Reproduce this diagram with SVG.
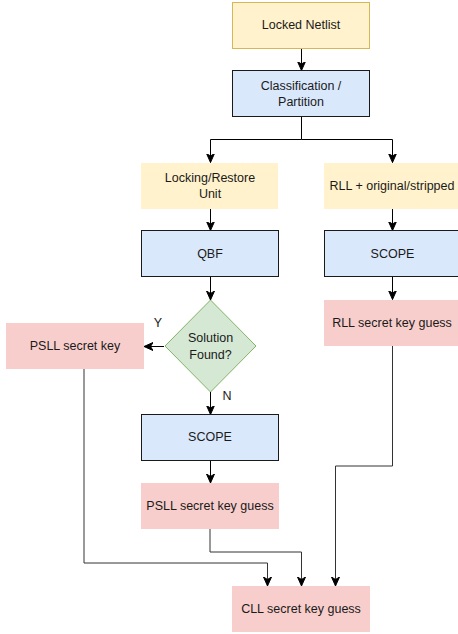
<svg xmlns="http://www.w3.org/2000/svg" width="458" height="634" viewBox="0 0 458 634">
<defs>
<marker id="arr" markerUnits="userSpaceOnUse" markerWidth="10" markerHeight="10" viewBox="0 0 10 10" refX="9" refY="5" orient="auto">
<path d="M0,1 L9,5 L0,9 L2.5,5 Z" fill="#000" stroke="#000" stroke-width="1"/>
</marker>
<style>
.t{font-family:"Liberation Sans",Arial,Helvetica,sans-serif;font-size:12.5px;fill:#1a1a1a;text-anchor:middle;dominant-baseline:central}
.yel{fill:#fff2cc}
.blu{fill:#dae8fc;stroke:#1a1a1a;stroke-width:1}
.pnk{fill:#f8cecc}
.c{fill:none;stroke:#000;stroke-width:1;marker-end:url(#arr)}
.cg{fill:none;stroke:#333;stroke-width:1;marker-end:url(#arr)}
</style>
</defs>
<rect width="458" height="634" fill="#fff"/>
<g id="connectors">
<path class="c" d="M301.5,48.5 V70.5"/>
<path class="c" d="M301.5,116.5 V139.5 H210.5 V162.5"/>
<path class="c" d="M301.5,139.5 H392.5 V162.5"/>
<path class="c" d="M210.5,209 V230.5"/>
<path class="c" d="M392.5,209 V230.5"/>
<path class="c" d="M210.5,276.5 V300"/>
<path class="c" d="M392.5,276.5 V299.5"/>
<path class="c" d="M164,346.5 H144"/>
<path class="c" d="M210.5,392 V414.5"/>
<path class="c" d="M210.5,460.5 V483"/>
<path class="cg" d="M84,369 V563 H267.5 V586"/>
<path class="cg" d="M210,529 V552 H301.5 V586"/>
<path class="cg" d="M392.5,346 V466 H335.5 V586"/>
</g>
<g id="locked-netlist">
<rect x="232.5" y="2.5" width="137" height="46" fill="#fff2cc" stroke="#d6b656"/>
<text class="t" x="301" y="25">Locked Netlist</text>
</g>
<g id="classification">
<rect class="blu" x="232.5" y="70.5" width="137" height="46"/>
<text class="t" x="301" y="86">Classification /</text>
<text class="t" x="301" y="102">Partition</text>
</g>
<g id="locking-restore">
<rect class="yel" x="141" y="163" width="137" height="46"/>
<text class="t" x="210" y="178">Locking/Restore</text>
<text class="t" x="210" y="194">Unit</text>
</g>
<g id="rll-original">
<rect class="yel" x="324" y="163" width="137" height="46"/>
<text class="t" x="392" y="186">RLL + original/stripped</text>
</g>
<g id="qbf">
<rect class="blu" x="141.5" y="230.5" width="137" height="46"/>
<text class="t" x="210" y="254">QBF</text>
</g>
<g id="scope-right">
<rect class="blu" x="324.5" y="230.5" width="137" height="46"/>
<text class="t" x="392.5" y="254">SCOPE</text>
</g>
<g id="rll-guess">
<rect class="pnk" x="324" y="300" width="137" height="46"/>
<text class="t" x="392" y="323">RLL secret key guess</text>
</g>
<g id="solution-found">
<path d="M210.5,300 L256,346 L210.5,392 L165,346 Z" fill="#d5e8d4" stroke="#82b366"/>
<text class="t" x="210.5" y="338">Solution</text>
<text class="t" x="210.5" y="355">Found?</text>
</g>
<g id="psll-key">
<rect class="pnk" x="6" y="323" width="138" height="46"/>
<text class="t" x="75" y="346">PSLL secret key</text>
</g>
<g id="labels">
<text class="t" x="158" y="323">Y</text>
<text class="t" x="227" y="396">N</text>
</g>
<g id="scope-mid">
<rect class="blu" x="141.5" y="414.5" width="137" height="46"/>
<text class="t" x="210" y="437">SCOPE</text>
</g>
<g id="psll-guess">
<rect class="pnk" x="141" y="483" width="138" height="46"/>
<text class="t" x="210" y="506">PSLL secret key guess</text>
</g>
<g id="cll-guess">
<rect class="pnk" x="232" y="586" width="138" height="46"/>
<text class="t" x="301" y="609">CLL secret key guess</text>
</g>
</svg>
